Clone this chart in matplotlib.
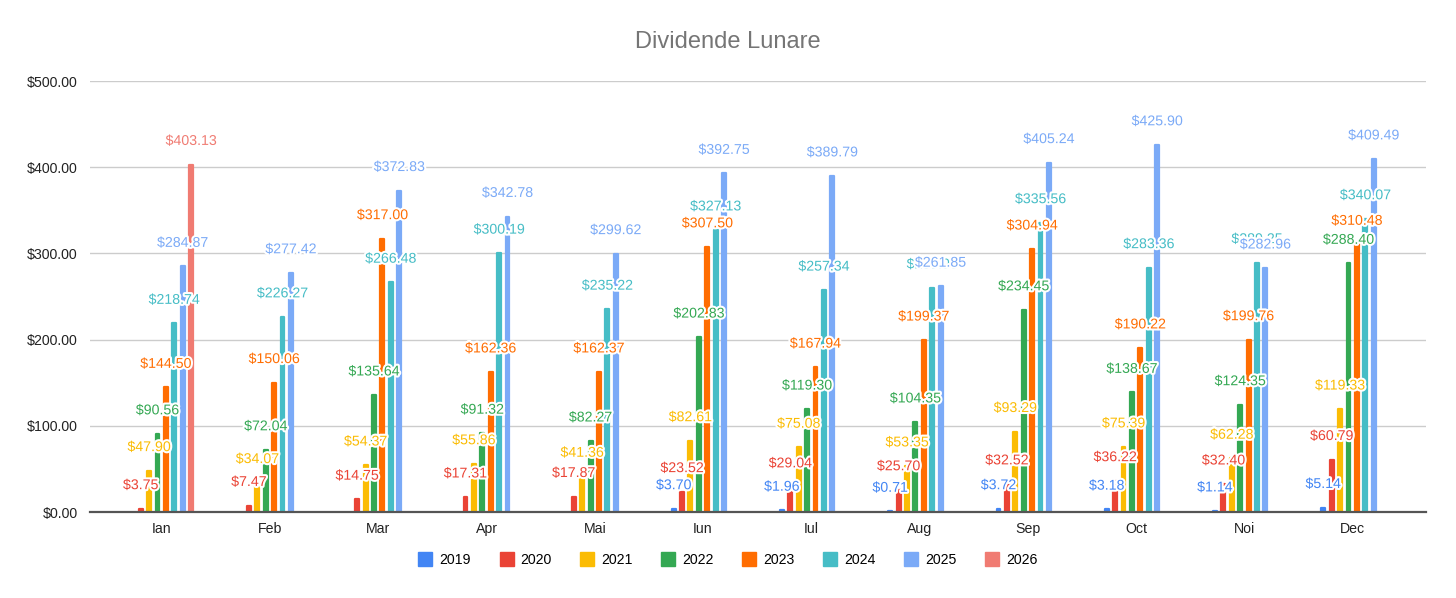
import numpy as np
import matplotlib.pyplot as plt
import matplotlib.patheffects as pe
from matplotlib.lines import Line2D

plt.rcParams['font.family'] = ['Liberation Sans', 'DejaVu Sans']

luni = ["Ian", "Feb", "Mar", "Apr", "Mai", "Iun", "Iul", "Aug", "Sep", "Oct", "Noi", "Dec"]
ani = ["2019", "2020", "2021", "2022", "2023", "2024", "2025", "2026"]
nan = np.nan

v2019 = [nan, nan, nan, nan, nan, 3.70, 1.96, 0.71, 3.72, 3.18, 1.14, 5.14]
v2020 = [3.75, 7.47, 14.75, 17.31, 17.87, 23.52, 29.04, 25.70, 32.52, 36.22, 32.40, 60.79]
v2021 = [47.90, 34.07, 54.37, 55.86, 41.36, 82.61, 75.08, 53.35, 93.29, 75.39, 62.28, 119.33]
v2022 = [90.56, 72.04, 135.64, 91.32, 82.27, 202.83, 119.30, 104.35, 234.45, 138.67, 124.35, 288.40]
v2023 = [144.50, 150.06, 317.00, 162.36, 162.37, 307.50, 167.94, 199.37, 304.94, 190.22, 199.76, 310.48]
v2024 = [218.74, 226.27, 266.48, 300.19, 235.22, 327.13, 257.34, 259.90, 335.56, 283.36, 289.25, 340.07]
v2025 = [284.87, 277.42, 372.83, 342.78, 299.62, 392.75, 389.79, 261.85, 405.24, 425.90, 282.96, 409.49]
v2026 = [403.13, nan, nan, nan, nan, nan, nan, nan, nan, nan, nan, nan]

serii = [v2019, v2020, v2021, v2022, v2023, v2024, v2025, v2026]
culori = ["#4285F4", "#EA4335", "#FBBC04", "#34A853", "#FF6D01", "#46BDC6", "#7BAAF7", "#F07B72"]

fig = plt.figure(figsize=(14.56, 5.98), dpi=100)
ax = fig.add_axes([0.0618, 0.1438, 0.9176, 0.7207])

x = np.arange(len(luni))
pas = 0.0776
latime = 0.036

for i, (vals, c) in enumerate(zip(serii, culori)):
    vals = np.array(vals, dtype=float)
    pos = x + (i - 3.5) * pas
    ok = ~np.isnan(vals)
    ax.bar(pos[ok], vals[ok], width=latime, color=c, edgecolor=c,
           linewidth=1.6, joinstyle='round', zorder=3)
    for xp, v in zip(pos[ok], vals[ok]):
        ax.annotate(f"${v:,.2f}", (xp, v), xytext=(0, 17), textcoords='offset points',
                    ha='center', va='center', fontsize=10.2, color=c, zorder=5,
                    annotation_clip=False,
                    path_effects=[pe.withStroke(linewidth=3, foreground='white')])

ax.set_xlim(-0.662, 11.677)
ax.set_ylim(0, 500)
ax.set_yticks(np.arange(0, 501, 100))
ax.set_yticklabels([f"${t:.2f}" for t in np.arange(0, 501, 100)])
ax.set_xticks(x)
ax.set_xticklabels(luni)
ax.tick_params(axis='both', length=0, labelsize=10.2, colors='#222222')
ax.tick_params(axis='y', pad=9)
ax.tick_params(axis='x', pad=7)
ax.grid(axis='y', color='#cccccc', linewidth=1, zorder=0)
ax.set_axisbelow(True)
for s in ['top', 'right', 'left']:
    ax.spines[s].set_visible(False)
ax.spines['bottom'].set_color('#555555')
ax.spines['bottom'].set_linewidth(1.6)
ax.spines['bottom'].set_zorder(4)

fig.text(0.5, 0.93, "Dividende Lunare", ha='center', va='center', fontsize=17, color='#757575')

handles = [Line2D([], [], marker='s', linestyle='none', markersize=9.5,
                  markerfacecolor=c, markeredgecolor=c) for c in culori]
fig.legend(handles, ani, loc='center', bbox_to_anchor=(0.5, 0.064), ncol=8,
           frameon=False, fontsize=10.2, handletextpad=0.5, columnspacing=2.0,
           handlelength=1.0)

fig.savefig("out.png", dpi=100)
